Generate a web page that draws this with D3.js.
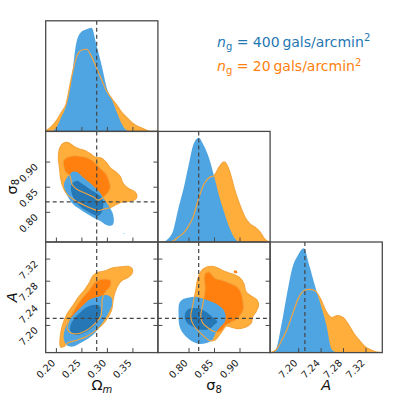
<!DOCTYPE html>
<html>
<head>
<meta charset="utf-8">
<script src="https://cdn.jsdelivr.net/npm/d3@7"></script>
<style>
  body { margin: 0; background: #fff; }
  svg { display: block; font-family: "DejaVu Sans", sans-serif; }
</style>
</head>
<body>
<div id="chart"></div>
<script>
// parameters: Omega_m, sigma_8, A
const domains = [[0.18, 0.40], [0.74, 0.96], [7.15, 7.35]];
const truths = [0.28, 0.82, 7.212];
const tickValues = [[0.20, 0.25, 0.30, 0.35], [0.80, 0.85, 0.90], [7.20, 7.24, 7.28, 7.32]];

// 1D marginals (peak-normalised)
const omegaGrid = [0.18, 0.19, 0.20, 0.21, 0.22, 0.23, 0.24, 0.25, 0.26, 0.27, 0.28, 0.29, 0.30, 0.31, 0.32, 0.33, 0.34, 0.35, 0.36, 0.37, 0.38, 0.39, 0.40];
const omegaBlue = [0, 0, 0.03, 0.13, 0.24, 0.47, 0.84, 0.945, 0.97, 0.985, 0.81, 0.62, 0.41, 0.30, 0.175, 0.063, 0.006, 0, 0, 0, 0, 0, 0];
const omegaOrange = [0.006, 0.04, 0.095, 0.175, 0.26, 0.5, 0.70, 0.77, 0.78, 0.71, 0.60, 0.485, 0.38, 0.31, 0.245, 0.175, 0.127, 0.08, 0.048, 0.029, 0.006, 0, 0];

const sigmaGrid = [0.74, 0.75, 0.76, 0.77, 0.78, 0.79, 0.80, 0.81, 0.82, 0.83, 0.84, 0.85, 0.86, 0.87, 0.88, 0.89, 0.90, 0.91, 0.92, 0.93, 0.94, 0.95, 0.96];
const sigmaBlue = [0, 0, 0.03, 0.11, 0.315, 0.50, 0.725, 0.93, 0.99, 0.915, 0.80, 0.63, 0.44, 0.28, 0.14, 0.04, 0, 0, 0, 0, 0, 0, 0];
const sigmaOrange = [0, 0, 0, 0.01, 0.047, 0.085, 0.148, 0.25, 0.416, 0.545, 0.61, 0.63, 0.71, 0.76, 0.68, 0.505, 0.36, 0.243, 0.173, 0.142, 0.095, 0.025, 0];

const ampGrid = [7.15, 7.16, 7.17, 7.18, 7.19, 7.20, 7.21, 7.22, 7.23, 7.24, 7.25, 7.26, 7.27, 7.28, 7.29, 7.30, 7.31, 7.32, 7.33, 7.34, 7.35];
const ampBlue = [0, 0.03, 0.26, 0.555, 0.81, 0.93, 0.99, 0.825, 0.635, 0.46, 0.27, 0.03, 0, 0, 0, 0, 0, 0, 0, 0, 0];
const ampOrange = [0, 0.022, 0.11, 0.22, 0.365, 0.51, 0.587, 0.60, 0.587, 0.51, 0.39, 0.333, 0.352, 0.333, 0.263, 0.175, 0.11, 0.054, 0.025, 0.006, 0];

// 2D contours (68% = inner, 95% = outer), [x, y]
const omSigOrange2 = [[0.208, 0.928], [0.2145, 0.9364], [0.2243, 0.9377], [0.234, 0.931], [0.2438, 0.926], [0.257, 0.922], [0.267, 0.916], [0.276, 0.909], [0.289, 0.907], [0.299, 0.898], [0.307, 0.887], [0.319, 0.878], [0.3265, 0.8695], [0.332, 0.856], [0.343, 0.846], [0.3545, 0.840], [0.359, 0.8305], [0.3545, 0.824], [0.341, 0.8205], [0.328, 0.819], [0.317, 0.814], [0.307, 0.8086], [0.296, 0.806], [0.283, 0.8026], [0.270, 0.8066], [0.2536, 0.814], [0.234, 0.825], [0.221, 0.836], [0.213, 0.852], [0.209, 0.868], [0.207, 0.888], [0.2047, 0.908]];
const omSigOrange1 = [[0.2145, 0.9013], [0.221, 0.9079], [0.2308, 0.9112], [0.2438, 0.9112], [0.2568, 0.9092], [0.2698, 0.9033], [0.2796, 0.8947], [0.2894, 0.8847], [0.2991, 0.8748], [0.3043, 0.8616], [0.3069, 0.8483], [0.3024, 0.8384], [0.2926, 0.8285], [0.2829, 0.8232], [0.2731, 0.8298], [0.2588, 0.8364], [0.2418, 0.8444], [0.2314, 0.855], [0.2275, 0.8715], [0.2197, 0.8781], [0.2158, 0.888]];
const omSigBlue2 = [[0.2197, 0.8649], [0.2275, 0.8748], [0.234, 0.8801], [0.2418, 0.8794], [0.2471, 0.8748], [0.2536, 0.8682], [0.2601, 0.8629], [0.2698, 0.855], [0.2763, 0.8483], [0.2861, 0.8384], [0.2926, 0.8285], [0.2991, 0.8185], [0.3056, 0.8086], [0.3108, 0.7987], [0.3135, 0.7854], [0.3121, 0.7755], [0.3056, 0.7722], [0.2959, 0.7755], [0.2861, 0.7821], [0.2731, 0.7887], [0.2601, 0.7967], [0.2471, 0.8053], [0.234, 0.8152], [0.2243, 0.8285], [0.2178, 0.8417], [0.2158, 0.855]];
const omSigBlue1 = [[0.234, 0.8583], [0.2418, 0.8616], [0.2503, 0.8563], [0.2601, 0.85], [0.2698, 0.843], [0.2796, 0.837], [0.288, 0.8305], [0.2926, 0.8205], [0.2926, 0.8086], [0.2894, 0.7987], [0.2829, 0.7921], [0.2718, 0.7954], [0.2601, 0.802], [0.2484, 0.81], [0.2392, 0.8205], [0.2327, 0.8318], [0.2295, 0.845], [0.2301, 0.8536]];
const omSigBlueDot = [[0.3328, 0.7575], [0.3344, 0.7575], [0.3344, 0.7562], [0.3328, 0.7562]];

const omAmpOrange2 = [[0.208, 7.164], [0.2093, 7.185], [0.2145, 7.204], [0.2223, 7.220], [0.234, 7.236], [0.2458, 7.252], [0.2568, 7.264], [0.2666, 7.278], [0.2718, 7.288], [0.2796, 7.294], [0.2926, 7.297], [0.3024, 7.300], [0.3135, 7.304], [0.3284, 7.305], [0.3414, 7.306], [0.3493, 7.302], [0.3493, 7.293], [0.3414, 7.286], [0.3304, 7.281], [0.3219, 7.272], [0.3161, 7.260], [0.3122, 7.245], [0.3089, 7.226], [0.2965, 7.2066], [0.2796, 7.191], [0.2601, 7.179], [0.2405, 7.1724], [0.2243, 7.168], [0.2158, 7.161], [0.2093, 7.160]];
const omAmpOrange1 = [[0.2223, 7.194], [0.2262, 7.209], [0.2327, 7.2222], [0.2418, 7.236], [0.2536, 7.251], [0.2653, 7.263], [0.2744, 7.275], [0.2829, 7.281], [0.2959, 7.283], [0.3069, 7.281], [0.3069, 7.270], [0.2978, 7.260], [0.2913, 7.248], [0.29, 7.230], [0.2881, 7.2162], [0.2783, 7.2042], [0.2653, 7.1934], [0.2471, 7.185], [0.2308, 7.185]];
const omAmpBlue2 = [[0.2568, 7.239], [0.2666, 7.2462], [0.2829, 7.251], [0.2991, 7.254], [0.3089, 7.2492], [0.3102, 7.236], [0.3043, 7.224], [0.2959, 7.2102], [0.2861, 7.197], [0.2763, 7.185], [0.2633, 7.1754], [0.2471, 7.167], [0.234, 7.161], [0.2223, 7.1628], [0.2158, 7.173], [0.2158, 7.185], [0.2197, 7.1982], [0.2275, 7.2102], [0.2373, 7.221], [0.2471, 7.230]];
const omAmpBlue1 = [[0.234, 7.209], [0.2471, 7.2222], [0.2601, 7.232], [0.2731, 7.236], [0.2829, 7.236], [0.2874, 7.230], [0.2861, 7.215], [0.2796, 7.203], [0.2698, 7.194], [0.2536, 7.185], [0.2373, 7.182], [0.2288, 7.188], [0.2288, 7.200]];

const sigAmpOrange2 = [[0.8143, 7.263], [0.8175, 7.281], [0.824, 7.296], [0.8337, 7.3038], [0.8467, 7.3062], [0.8597, 7.302], [0.8727, 7.296], [0.8889, 7.2912], [0.8999, 7.2858], [0.9084, 7.275], [0.9129, 7.26], [0.9233, 7.2522], [0.9343, 7.245], [0.9376, 7.236], [0.9324, 7.224], [0.9259, 7.215], [0.9227, 7.203], [0.9116, 7.1958], [0.8974, 7.1934], [0.8844, 7.1958], [0.874, 7.1982], [0.863, 7.185], [0.85, 7.1718], [0.8389, 7.173], [0.8273, 7.182], [0.8143, 7.194], [0.8065, 7.206], [0.8045, 7.218], [0.8078, 7.233], [0.811, 7.248]];
const sigAmpOrange1 = [[0.8325, 7.293], [0.8402, 7.296], [0.8467, 7.29], [0.8532, 7.284], [0.8662, 7.281], [0.8824, 7.275], [0.8954, 7.269], [0.9038, 7.257], [0.9064, 7.245], [0.9084, 7.23], [0.9019, 7.218], [0.8922, 7.209], [0.8824, 7.2042], [0.8727, 7.1982], [0.863, 7.188], [0.85, 7.188], [0.837, 7.1958], [0.8273, 7.2042], [0.824, 7.218], [0.8273, 7.233], [0.8305, 7.251], [0.8325, 7.269], [0.8305, 7.284]];
const sigAmpOrangeDot = [[0.889, 7.2975], [0.894, 7.298], [0.8955, 7.2945], [0.8905, 7.2935]];
const sigAmpBlue2 = [[0.7818, 7.239], [0.7883, 7.2462], [0.8013, 7.2498], [0.8143, 7.251], [0.8273, 7.248], [0.8402, 7.2438], [0.8532, 7.239], [0.8662, 7.23], [0.8727, 7.218], [0.8714, 7.206], [0.863, 7.197], [0.8532, 7.185], [0.8467, 7.173], [0.8337, 7.167], [0.8208, 7.1658], [0.8078, 7.17], [0.7948, 7.179], [0.787, 7.188], [0.7818, 7.2], [0.7805, 7.218], [0.7805, 7.23]];
const sigAmpBlue1 = [[0.7948, 7.224], [0.8045, 7.23], [0.8175, 7.23], [0.8305, 7.2258], [0.8402, 7.2198], [0.85, 7.212], [0.8565, 7.206], [0.85, 7.2], [0.8435, 7.194], [0.8337, 7.191], [0.8208, 7.1922], [0.8078, 7.197], [0.7981, 7.203], [0.7929, 7.212]];

const colors = {
  blueLight: "#4fa5e2",
  blueDark: "#2577b6",
  orangeLight: "#ffae3b",
  orangeDark: "#ff800e",
  orangeLine: "#f4a43c",
  frame: "#4a4a4a",
  truth: "#444",
};

const width = 399;
const height = 402;
const originX = 45.7;
const originY = 20.8;
const pw = 112.2;
const ph = 110.6;

const svg = d3.select("#chart").append("svg")
  .attr("width", width)
  .attr("height", height)
  .attr("viewBox", `0 0 ${width} ${height}`);

const xScales = domains.map((d) => d3.scaleLinear().domain(d).range([0, pw]));
const yScales = domains.map((d) => d3.scaleLinear().domain(d).range([ph, 0]));
const densityScale = d3.scaleLinear().domain([0, 1.05]).range([ph, 0]);
const fmt = d3.format(".2f");

function panel(row, col) {
  const g = svg.append("g").attr("transform", `translate(${originX + col * pw},${originY + row * ph})`);
  const id = `clip-${row}-${col}`;
  g.append("clipPath").attr("id", id).append("rect").attr("width", pw).attr("height", ph);
  const body = g.append("g").attr("clip-path", `url(#${id})`);
  return { g, body };
}

function drawMarginal(col, grid, blue, orange) {
  const { g, body } = panel(col, col);
  const x = xScales[col];
  const pairsB = grid.map((v, i) => [v, blue[i]]);
  const pairsO = grid.map((v, i) => [v, orange[i]]);
  const area = d3.area().x((d) => x(d[0])).y0(ph).y1((d) => densityScale(d[1])).curve(d3.curveMonotoneX);
  const line = d3.line().x((d) => x(d[0])).y((d) => densityScale(d[1])).curve(d3.curveMonotoneX);
  body.append("path").datum(pairsO).attr("fill", colors.orangeLight).attr("d", area);
  body.append("path").datum(pairsB).attr("fill", colors.blueLight).attr("d", area);
  body.append("path").datum(pairsO).attr("fill", "none").attr("stroke", colors.orangeLine).attr("stroke-width", 1.2).attr("d", line);
  body.append("line")
    .attr("x1", x(truths[col])).attr("x2", x(truths[col]))
    .attr("y1", 0).attr("y2", ph)
    .attr("stroke", colors.truth).attr("stroke-width", 1.2).attr("stroke-dasharray", "4,3");
  finishPanel(g, col, null, col === 2);
}

function drawJoint(row, col, orange2, orange1, blue2, blue1, extras) {
  const { g, body } = panel(row, col);
  const x = xScales[col];
  const y = yScales[row];
  const shape = d3.line().x((d) => x(d[0])).y((d) => y(d[1])).curve(d3.curveCatmullRomClosed.alpha(0.5));
  body.append("path").datum(orange2).attr("fill", colors.orangeLight).attr("d", shape);
  body.append("path").datum(orange1).attr("fill", colors.orangeDark).attr("d", shape);
  (extras.orange || []).forEach((p) => body.append("path").datum(p).attr("fill", colors.orangeDark).attr("d", shape));
  body.append("path").datum(blue2).attr("fill", colors.blueLight).attr("d", shape);
  (extras.blue || []).forEach((p) => body.append("path").datum(p).attr("fill", colors.blueLight).attr("d", shape));
  body.append("path").datum(blue1).attr("fill", colors.blueDark).attr("d", shape);
  [orange2, orange1].forEach((p) => {
    body.append("path").datum(p).attr("fill", "none")
      .attr("stroke", colors.orangeLine).attr("stroke-width", 1.1).attr("d", shape);
  });
  body.append("line")
    .attr("x1", x(truths[col])).attr("x2", x(truths[col]))
    .attr("y1", 0).attr("y2", ph)
    .attr("stroke", colors.truth).attr("stroke-width", 1.2).attr("stroke-dasharray", "4,3");
  body.append("line")
    .attr("x1", 0).attr("x2", pw)
    .attr("y1", y(truths[row])).attr("y2", y(truths[row]))
    .attr("stroke", colors.truth).attr("stroke-width", 1.2).attr("stroke-dasharray", "4,3");
  finishPanel(g, col, row, row === 2);
}

function styleAxis(sel) {
  sel.select(".domain").remove();
  sel.selectAll(".tick line").attr("stroke", colors.frame).attr("stroke-width", 1);
  sel.selectAll(".tick text").attr("fill", "#222").attr("font-size", 9.8)
    .attr("font-family", "DejaVu Sans, sans-serif");
}

function finishPanel(g, col, row, showX) {
  const bottom = g.append("g").attr("transform", `translate(0,${ph})`)
    .call(d3.axisBottom(xScales[col]).tickValues(tickValues[col]).tickSize(-4.5).tickFormat(showX ? fmt : ""));
  styleAxis(bottom);
  if (showX) {
    bottom.selectAll(".tick text")
      .attr("x", null).attr("y", null).attr("dy", null)
      .attr("text-anchor", "end")
      .attr("transform", "translate(-0.5,11) rotate(-45)");
  }
  if (row !== null) {
    const showY = col === 0;
    const leftAxis = g.append("g")
      .call(d3.axisLeft(yScales[row]).tickValues(tickValues[row]).tickSize(-4.5).tickFormat(showY ? fmt : ""));
    styleAxis(leftAxis);
    if (showY) {
      leftAxis.selectAll(".tick text")
        .attr("x", null).attr("y", null).attr("dy", null)
        .attr("text-anchor", "end")
        .attr("transform", "translate(-7,5.4) rotate(-45)");
    }
    const rightAxis = g.append("g").attr("transform", `translate(${pw},0)`)
      .call(d3.axisRight(yScales[row]).tickValues(tickValues[row]).tickSize(-4.5).tickFormat(""));
    styleAxis(rightAxis);
  }
  g.append("rect").attr("width", pw).attr("height", ph)
    .attr("fill", "none").attr("stroke", colors.frame).attr("stroke-width", 1.3);
}

drawMarginal(0, omegaGrid, omegaBlue, omegaOrange);
drawJoint(1, 0, omSigOrange2, omSigOrange1, omSigBlue2, omSigBlue1, { blue: [omSigBlueDot] });
drawMarginal(1, sigmaGrid, sigmaBlue, sigmaOrange);
drawJoint(2, 0, omAmpOrange2, omAmpOrange1, omAmpBlue2, omAmpBlue1, {});
drawJoint(2, 1, sigAmpOrange2, sigAmpOrange1, sigAmpBlue2, sigAmpBlue1, { orange: [sigAmpOrangeDot] });
drawMarginal(2, ampGrid, ampBlue, ampOrange);

// axis labels
const labelFont = 14.5;
function bottomLabel(col, build) {
  const t = svg.append("text")
    .attr("x", originX + col * pw + pw / 2)
    .attr("y", 390)
    .attr("text-anchor", "middle")
    .attr("font-size", labelFont)
    .attr("fill", "#111");
  build(t);
}
bottomLabel(0, (t) => {
  t.append("tspan").text("Ω");
  t.append("tspan").attr("font-style", "italic").attr("font-size", 10).attr("dy", 2.5).text("m");
});
bottomLabel(1, (t) => {
  t.append("tspan").text("σ");
  t.append("tspan").attr("font-size", 10).attr("dy", 2.5).text("8");
});
bottomLabel(2, (t) => {
  t.append("tspan").attr("font-style", "italic").text("A");
});

function sideLabel(row, bx, build) {
  const cy = originY + row * ph + ph / 2;
  const t = svg.append("text")
    .attr("transform", `translate(${bx},${cy}) rotate(-90)`)
    .attr("text-anchor", "middle")
    .attr("font-size", labelFont)
    .attr("fill", "#111");
  build(t);
}
sideLabel(1, 16.5, (t) => {
  t.append("tspan").text("σ");
  t.append("tspan").attr("font-size", 10).attr("dy", 2).text("8");
});
sideLabel(2, 17, (t) => {
  t.append("tspan").attr("font-style", "italic").text("A");
});

// legend
const legendItems = [
  { value: "400", color: "#1f77b4", y: 46.5 },
  { value: "20", color: "#ff7f0e", y: 71 },
];
legendItems.forEach((item) => {
  const t = svg.append("text")
    .attr("x", 217)
    .attr("y", item.y)
    .attr("font-size", 14)
    .attr("fill", item.color);
  t.append("tspan").attr("font-style", "italic").text("n");
  t.append("tspan").attr("font-size", 10).attr("dy", 3).text("g");
  t.append("tspan").attr("dy", -3).text(` = ${item.value}\u2009gals/arcmin`);
  t.append("tspan").attr("font-size", 10).attr("dy", -5.5).text("2");
});
</script>
</body>
</html>
